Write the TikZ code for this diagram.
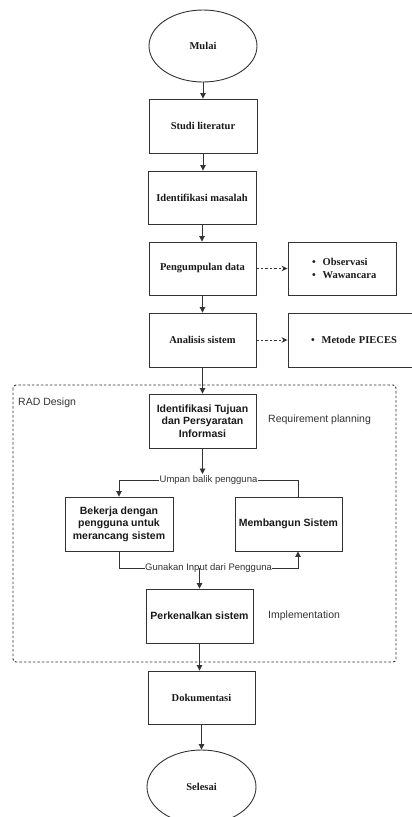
\documentclass[tikz,border=0pt]{standalone}
\usepackage{fontspec}
\setmainfont{Liberation Serif}
\setsansfont{Liberation Sans}
\usetikzlibrary{shapes.geometric,arrows.meta,calc}
\definecolor{linec}{HTML}{333333}
\definecolor{txt}{HTML}{1A1A1A}
\definecolor{lblc}{HTML}{333333}
\begin{document}
\begin{tikzpicture}[x=1pt,y=-1pt,
  box/.style={draw=linec, line width=0.9pt, minimum width=107pt, minimum height=54pt, inner sep=2pt, align=center, text=txt, font=\bfseries\fontsize{10.5}{12.5}\selectfont},
  sbox/.style={box, font=\sffamily\bfseries\fontsize{10.5}{12.5}\selectfont},
  oval/.style={box, ellipse, minimum width=108pt, minimum height=72pt},
  listbox/.style={box, inner xsep=0pt, align=left},
  arr/.style={draw=linec, line width=0.9pt, -{Triangle[length=5.5pt,width=5.5pt]}},
  plain/.style={draw=linec, line width=0.9pt},
  darr/.style={draw=linec, line width=0.9pt, dash pattern=on 2.5pt off 2pt, -{Stealth[length=6pt,width=5.5pt]}},
  lbl/.style={font=\sffamily\fontsize{9.5}{11}\selectfont, fill=white, inner sep=0.5pt, text=lblc},
  note/.style={font=\sffamily\fontsize{10.5}{12.5}\selectfont, text=lblc, inner sep=0pt, anchor=west}
]
\useasboundingbox (0,0) rectangle (412,817);
\fill[white] (0,0) rectangle (412,817);

% RAD container
\draw[draw=linec, line width=0.9pt, dash pattern=on 2.5pt off 2pt, rounded corners=3pt] (13,385) rectangle (396,662);
\node[note] (rad) at (18,403) {RAD Design};

\node[oval] (mulai) at (203,46) {Mulai};
\node[box, minimum width=108pt] (studi) at (203,126) {Studi literatur};
\node[box, minimum width=108pt, minimum height=53pt] (idm) at (202,197.5) {Identifikasi masalah};
\node[box, minimum height=53pt] (peng) at (202.5,268.5) {Pengumpulan data};
\node[listbox, text width=108pt, minimum height=53pt] (obs) at (342,268.5)
  {\hspace*{24pt}\textbullet\hspace{7pt}Observasi\\\hspace*{24pt}\textbullet\hspace{7pt}Wawancara};
\node[box] (anal) at (202.5,340) {Analisis sistem};
\node[listbox, text width=126pt] (pieces) at (351,340)
  {\hspace*{23pt}\textbullet\hspace{7pt}Metode PIECES};

\node[sbox] (tuj) at (202.5,421) {Identifikasi Tujuan\\dan Persyaratan\\Informasi};
\node[note] (req) at (268,420) {Requirement planning};
\node[sbox, minimum width=108pt] (bek) at (119,524) {Bekerja dengan\\pengguna untuk\\merancang sistem};
\node[sbox] (mem) at (288.5,524) {Membangun Sistem};
\node[sbox] (perk) at (199.5,616) {Perkenalkan sistem};
\node[note] (impl) at (268,616) {Implementation};

\node[box, minimum height=53pt] (dok) at (201.5,697.5) {Dokumentasi};
\node[oval, minimum width=109pt, minimum height=74pt] (sel) at (201.5,787) {Selesai};

% main flow
\draw[arr] (mulai.south) -- (mulai.south |- studi.north);
\draw[arr] (studi.south) -- (studi.south |- idm.north);
\draw[arr] (idm.south) -- (idm.south |- peng.north);
\draw[arr] (peng.south) -- (peng.south |- anal.north);
\draw[arr] (anal.south) -- (anal.south |- tuj.north);
\draw[darr] (peng.east) -- (obs.west);
\draw[darr] (anal.east) -- (pieces.west);

% RAD cycle
\coordinate (tip) at (202.5,474);
\draw[arr] (tuj.south) -- (tip);
\coordinate (fbR) at ($(mem.north)+(9.5,0)$);
\draw[arr] (fbR) -- (fbR |- 0,480) -- node[lbl]{Umpan balik pengguna} (bek.north |- 0,480) -- (bek.north);
\coordinate (inR) at ($(mem.south)+(9.5,0)$);
\draw[arr] (bek.south) -- (bek.south |- 0,568) -- node[lbl]{Gunakan Input dari Pengguna} (inR |- 0,568) -- (inR);
\coordinate (inM) at (perk.north |- 0,568);
\draw[arr] (inM) -- (perk.north);

\draw[arr] (perk.south) -- (perk.south |- dok.north);
\draw[arr] (dok.south) -- (dok.south |- sel.north);
\end{tikzpicture}
\end{document}
